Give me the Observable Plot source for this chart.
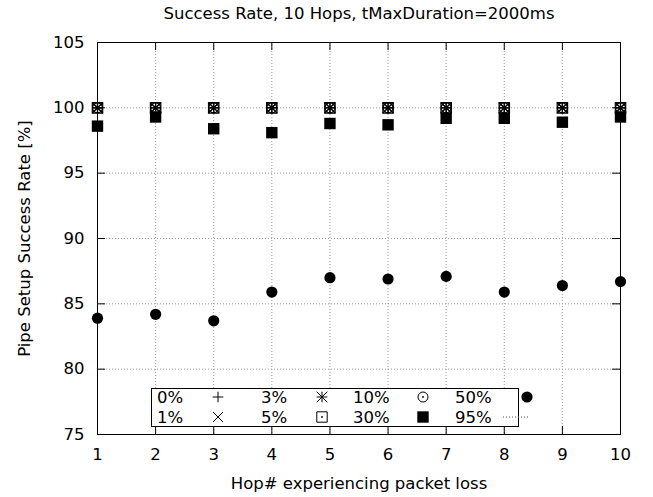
<!DOCTYPE html>
<html><head><meta charset="utf-8">
<script src="https://cdn.jsdelivr.net/npm/d3@7"></script>
<script src="https://cdn.jsdelivr.net/npm/@observablehq/plot@0.6"></script>
<style>
html,body{margin:0;padding:0;background:#fff;}
#chart{width:653px;height:497px;}
</style></head><body><div id="chart"></div>
<script>
// ---- data ----
const hops = [1, 2, 3, 4, 5, 6, 7, 8, 9, 10];
const loss0  = [100, 100, 100, 100, 100, 100, 100, 100, 100, 100];
const loss1  = [100, 100, 100, 100, 100, 100, 100, 100, 100, 100];
const loss3  = [100, 100, 100, 100, 100, 100, 100, 100, 100, 100];
const loss5  = [100, 100, 100, 100, 100, 100, 100, 100, 100, 100];
const loss10 = [100, 100, 100, 100, 100, 100, 100, 100, 100, 100];
const loss30 = [98.6, 99.3, 98.4, 98.1, 98.8, 98.7, 99.2, 99.2, 98.9, 99.3];
const loss50 = [83.9, 84.2, 83.7, 85.9, 87.0, 86.9, 87.1, 85.9, 86.4, 86.7];
// 95% series lies below the visible range (not readable from the picture)
const loss95 = [];
const seriesNames = ["0%", "1%", "3%", "5%", "10%", "30%", "50%", "95%"];
const xTicks = [1, 2, 3, 4, 5, 6, 7, 8, 9, 10];
const yTicks = [75, 80, 85, 90, 95, 100, 105];
const titleText = "Success Rate, 10 Hops, tMaxDuration=2000ms";
const xLabelText = "Hop# experiencing packet loss";
const yLabelText = "Pipe Setup Success Rate [%]";

// ---- symbols (gnuplot-like) ----
const rad = s => Math.sqrt(s / Math.PI);
const symPlus = {draw(c, s) {const r = rad(s); c.moveTo(-r, 0); c.lineTo(r, 0); c.moveTo(0, -r); c.lineTo(0, r);}};
const symTimes = {draw(c, s) {const r = rad(s); c.moveTo(-r, -r); c.lineTo(r, r); c.moveTo(-r, r); c.lineTo(r, -r);}};
const symStar = {draw(c, s) {symPlus.draw(c, s); symTimes.draw(c, s);}};
const symBoxDot = {draw(c, s) {const r = rad(s); c.rect(-r, -r, 2 * r, 2 * r); c.moveTo(0.6, 0); c.arc(0, 0, 0.6, 0, 2 * Math.PI);}};
const symCircDot = {draw(c, s) {const r = rad(s); c.moveTo(r, 0); c.arc(0, 0, r, 0, 2 * Math.PI); c.moveTo(0.6, 0); c.arc(0, 0, 0.6, 0, 2 * Math.PI);}};
const symSquare = {draw(c, s) {const r = rad(s); c.rect(-r, -r, 2 * r, 2 * r);}};
const symCircle = {draw(c, s) {const r = rad(s); c.moveTo(r, 0); c.arc(0, 0, r, 0, 2 * Math.PI);}};

const series = [
  {name: seriesNames[0], values: loss0,  symbol: symPlus,    r: 5.3, fill: "none",  stroke: "black"},
  {name: seriesNames[1], values: loss1,  symbol: symTimes,   r: 5.0, fill: "none",  stroke: "black"},
  {name: seriesNames[2], values: loss3,  symbol: symStar,    r: 5.3, fill: "none",  stroke: "black"},
  {name: seriesNames[3], values: loss5,  symbol: symBoxDot,  r: 5.2, fill: "none",  stroke: "black"},
  {name: seriesNames[4], values: loss10, symbol: symCircDot, r: 5.0, fill: "none",  stroke: "black"},
  {name: seriesNames[5], values: loss30, symbol: symSquare,  r: 5.7, fill: "black", stroke: "none"},
  {name: seriesNames[6], values: loss50, symbol: symCircle,  r: 5.6, fill: "black", stroke: "none"},
  {name: seriesNames[7], values: loss95, line: true}
];

const FS = 16.5;
const W = 653, H = 497, mL = 97, mR = 33, mT = 42, mB = 63;
const FW = W - mL - mR, FH = H - mT - mB, TL = 8;
const grid = {stroke: "#999", strokeOpacity: 1, strokeWidth: 1, strokeDasharray: "1,2"};

const dotMarks = series.filter(s => !s.line).map(s =>
  Plot.dot(hops.map((h, i) => ({hop: h, rate: s.values[i], name: s.name})), {
    x: "hop", y: "rate", symbol: s.symbol, r: s.r, fill: s.fill, stroke: s.stroke, strokeWidth: 1.2
  })
);

const chart = Plot.plot({
  width: W, height: H,
  marginLeft: mL, marginRight: mR, marginTop: mT, marginBottom: mB,
  style: {fontFamily: "DejaVu Sans", fontSize: FS + "px", color: "black", background: "white"},
  x: {domain: [1, 10]},
  y: {domain: [75, 105]},
  marks: [
    Plot.gridX(xTicks, grid),
    Plot.gridY(yTicks, grid),
    Plot.tickX(xTicks, {x: d => d, insetTop: FH - TL, stroke: "black"}),
    Plot.tickX(xTicks, {x: d => d, insetBottom: FH - TL, stroke: "black"}),
    Plot.tickY(yTicks, {y: d => d, insetRight: FW - TL, stroke: "black"}),
    Plot.tickY(yTicks, {y: d => d, insetLeft: FW - TL, stroke: "black"}),
    Plot.axisX(xTicks, {tickSize: 0, tickPadding: 14, fontSize: FS, label: null, tickFormat: d => String(d)}),
    Plot.axisY(yTicks, {tickSize: 0, tickPadding: 13, fontSize: FS, label: null, tickFormat: d => String(d)}),
    ...dotMarks,
    Plot.frame({stroke: "black", strokeWidth: 1}),
    Plot.text([titleText], {text: d => d, frameAnchor: "top", lineAnchor: "middle", dy: -29, fontSize: FS}),
    Plot.text([xLabelText], {text: d => d, frameAnchor: "bottom", lineAnchor: "middle", dy: 49, fontSize: FS}),
    Plot.text([yLabelText], {text: d => d, frameAnchor: "left", textAnchor: "middle", lineAnchor: "middle", dx: -73, rotate: -90, fontSize: FS})
  ]
});
document.getElementById("chart").appendChild(chart);

// ---- legend (gnuplot key, 2 rows, filled column by column) ----
const svg = d3.select(chart);
const g = svg.append("g").attr("font-family", "DejaVu Sans").attr("font-size", FS)
  .attr("fill", "black").attr("text-anchor", "start");
g.append("rect").attr("x", 151.5).attr("y", 388.5).attr("width", 367).attr("height", 38)
  .attr("fill", "white").attr("stroke", "black").attr("stroke-width", 1);
const cols = [{tx: 157, sx: 218}, {tx: 261, sx: 322}, {tx: 353, sx: 423}, {tx: 455, sx: 527}];
const rows = [397, 417];
series.forEach((s, i) => {
  const c = cols[Math.floor(i / 2)], ry = rows[i % 2];
  g.append("text").attr("x", c.tx).attr("y", ry).attr("dy", "0.36em").attr("text-anchor", "start").text(s.name);
  if (s.line) {
    g.append("line").attr("x1", 503).attr("x2", 529).attr("y1", ry).attr("y2", ry)
      .attr("stroke", "#555").attr("stroke-dasharray", "1,2");
  } else {
    g.append("path").attr("transform", `translate(${c.sx},${ry})`)
      .attr("d", d3.symbol(s.symbol, s.r * s.r * Math.PI)())
      .attr("fill", s.fill).attr("stroke", s.stroke).attr("stroke-width", 1);
  }
});
</script>
</body></html>
